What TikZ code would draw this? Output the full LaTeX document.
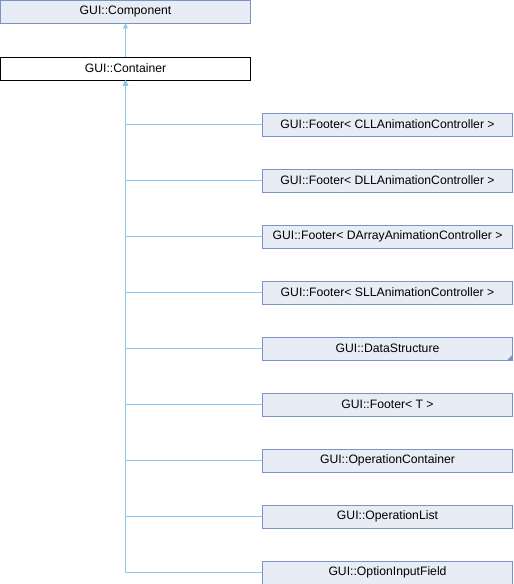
\documentclass[tikz,border=0pt]{standalone}
\usepackage{fontspec}
\setmainfont{Liberation Sans}
\usepackage{tikz}
\usetikzlibrary{positioning,arrows.meta,calc}
\definecolor{boxfill}{HTML}{E8ECF5}
\definecolor{boxline}{HTML}{7A92C8}
\definecolor{edgeblue}{HTML}{8CC8EE}

\begin{document}
\begin{tikzpicture}[
    x=1pt, y=-1pt,
    cls/.style={draw=boxline, fill=boxfill, line width=0.9pt, minimum width=250pt, minimum height=23pt, inner sep=0pt, font=\fontsize{12.2}{14}\selectfont},
    cur/.style={cls, draw=black, fill=white},
    arr/.style={-{Triangle[length=5pt, width=5pt]}, draw=edgeblue, line width=0.9pt}
]
    \useasboundingbox (0,0) rectangle (514,584);

    % Base classes
    \node[cls] (comp) at (125.5,11.5) {GUI::Component};
    \node[cur] (cont) at (125.5,68.5) {GUI::Container};
    \draw[arr] (cont.north) -- (comp.south);

    % Derived classes
    \foreach \i/\name in {1/{GUI::Footer< CLLAnimationController >},
                          2/{GUI::Footer< DLLAnimationController >},
                          3/{GUI::Footer< DArrayAnimationController >},
                          4/{GUI::Footer< SLLAnimationController >},
                          5/{GUI::DataStructure},
                          6/{GUI::Footer< T >},
                          7/{GUI::OperationContainer},
                          8/{GUI::OperationList},
                          9/{GUI::OptionInputField}} {
        \node[cls] (c\i) at (387.5,{124.5+56*(\i-1)}) {\name};
        \draw[arr] (c\i.west) -| (cont.south);
    }

    % Marker for further subclasses
    \fill[boxline] (c5.south east) -- ++(-6,0) -- ++(6,-6) -- cycle;
\end{tikzpicture}
\end{document}
